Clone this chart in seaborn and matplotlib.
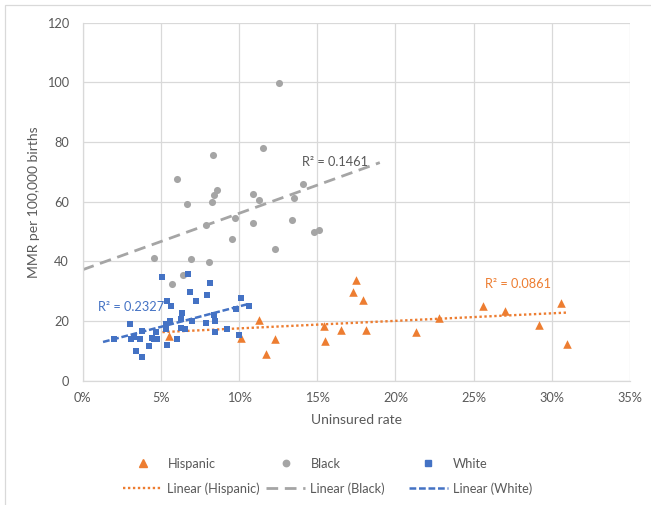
import numpy as np
import matplotlib.pyplot as plt
import seaborn as sns
from matplotlib.lines import Line2D
from matplotlib.patches import Rectangle

# -------------------------------
# 1. Data (uninsured rate in %, MMR per 100,000 births)
# -------------------------------
hisp_x = [5.5, 10.1, 11.3, 11.7, 12.3, 15.4, 15.5, 16.5, 17.3, 17.5,
          17.9, 18.1, 21.3, 22.8, 25.6, 27.0, 29.2, 30.6, 31.0]
hisp_y = [15.1, 14.2, 20.3, 9.1, 13.9, 18.3, 13.3, 16.9, 29.6, 33.9,
          26.9, 17.1, 16.4, 21.1, 25.1, 23.3, 18.7, 26.0, 12.2]

black_x = [4.53, 5.68, 6.04, 6.42, 6.66, 6.9, 7.89, 8.08, 8.3, 8.35,
           8.38, 8.6, 9.53, 9.74, 10.9, 10.9, 11.28, 11.56, 12.3, 12.58,
           13.36, 13.54, 14.09, 14.81, 15.09]
black_y = [41.0, 32.3, 67.6, 35.4, 59.3, 40.8, 52.1, 39.9, 59.8, 75.8,
           62.2, 63.9, 47.5, 54.4, 62.7, 53.0, 60.5, 78.0, 44.0, 99.8,
           53.8, 61.1, 65.9, 49.7, 50.6]

white_x = [2.02, 3.04, 3.09, 3.28, 3.4, 3.66, 3.81, 3.81, 4.21, 4.4,
           4.53, 4.7, 4.74, 5.05, 5.3, 5.32, 5.41, 5.41, 5.6, 5.62,
           6.05, 6.26, 6.3, 6.34, 6.56, 6.73, 6.87, 7.02, 7.26, 7.9,
           7.96, 8.11, 8.41, 8.49, 8.49, 9.26, 9.81, 9.98, 10.11, 10.66]
white_y = [13.9, 18.9, 13.9, 14.8, 10.0, 14.0, 16.8, 8.1, 11.7, 14.4,
           14.0, 16.2, 13.9, 34.6, 19.1, 17.4, 26.7, 12.1, 20.0, 25.1,
           14.1, 20.8, 17.7, 22.6, 17.2, 35.8, 29.8, 19.9, 26.8, 19.4,
           28.7, 32.7, 22.0, 20.0, 16.4, 17.4, 23.9, 15.4, 27.6, 25.1]

# linear trend lines as shown on the chart: intercept, slope, x from, x to
trend_hisp = [15.0, 0.253, 5.1, 31.0]
trend_black = [37.2, 1.89, 0.0, 19.0]
trend_white = [11.2, 1.37, 1.3, 10.66]

r2_labels = {"Hispanic": "R² = 0.0861", "Black": "R² = 0.1461", "White": "R² = 0.2327"}

# -------------------------------
# 2. Style
# -------------------------------
sns.set_style("white")
plt.rcParams['font.family'] = ['Lato', 'DejaVu Sans']
TXT = "#595959"
GRID = "#D9D9D9"
ORANGE, GRAY, BLUE = "#ED7D31", "#A5A5A5", "#4472C4"
FS = 9.2

fig = plt.figure(figsize=(6.51, 5.05), dpi=100)
ax = fig.add_axes([82.7 / 651, 1 - 380.7 / 505, (630 - 82.7) / 651, (380.7 - 22.7) / 505])

# -------------------------------
# 3. Scatter points
# -------------------------------
sns.scatterplot(x=hisp_x, y=hisp_y, marker="^", s=38, color=ORANGE, linewidth=0, ax=ax, zorder=3)
sns.scatterplot(x=black_x, y=black_y, marker="o", s=26, color=GRAY, linewidth=0, ax=ax, zorder=3)
sns.scatterplot(x=white_x, y=white_y, marker="s", s=22, color=BLUE, linewidth=0, ax=ax, zorder=4)

# -------------------------------
# 4. Linear trend lines
# -------------------------------
def trend_line(params):
    b, m, x0, x1 = params
    xx = np.array([x0, x1])
    return xx, b + m * xx

ls_hisp = (0, (1.0, 1.1))
ls_black = (0, (4.2, 2.4))
ls_white = (0, (2.7, 1.1))

xx, yy = trend_line(trend_hisp)
ax.plot(xx, yy, color=ORANGE, lw=1.7, linestyle=ls_hisp, zorder=2)
xx, yy = trend_line(trend_black)
ax.plot(xx, yy, color=GRAY, lw=2.0, linestyle=ls_black, zorder=2)
xx, yy = trend_line(trend_white)
ax.plot(xx, yy, color=BLUE, lw=1.8, linestyle=ls_white, zorder=5)

ax.text(14.05, 73.3, r2_labels["Black"], color=TXT, fontsize=FS, va="center", ha="left")
ax.text(25.7, 32.3, r2_labels["Hispanic"], color=ORANGE, fontsize=FS, va="center", ha="left")
ax.text(1.0, 24.7, r2_labels["White"], color=BLUE, fontsize=FS, va="center", ha="left")

# -------------------------------
# 5. Axes
# -------------------------------
ax.set_xlim(0, 35)
ax.set_ylim(0, 120)
ax.set_xticks(range(0, 36, 5))
ax.set_xticklabels([f"{v}%" for v in range(0, 36, 5)])
ax.set_yticks(range(0, 121, 20))
ax.grid(True, color=GRID, lw=0.9)
ax.set_axisbelow(True)
for side in ["top", "right"]:
    ax.spines[side].set_visible(False)
for side in ["left", "bottom"]:
    ax.spines[side].set_color(GRID)
    ax.spines[side].set_linewidth(0.9)
ax.tick_params(axis="both", length=0, labelsize=FS, labelcolor=TXT)
ax.tick_params(axis="y", pad=10)
ax.tick_params(axis="x", pad=8)
ax.set_xlabel("Uninsured rate", fontsize=10, color=TXT, labelpad=7)
ax.set_ylabel("MMR per 100,000 births", fontsize=10, color=TXT, labelpad=5)

# -------------------------------
# 6. Legend (three columns, placed separately)
# -------------------------------
cols = [
    (Line2D([], [], marker="^", ls="", color=ORANGE, markersize=5.5), "Hispanic",
     Line2D([], [], color=ORANGE, lw=1.7, linestyle=ls_hisp), "Linear (Hispanic)", 122.7),
    (Line2D([], [], marker="o", ls="", color=GRAY, markersize=4.6), "Black",
     Line2D([], [], color=GRAY, lw=2.0, linestyle=ls_black), "Linear (Black)", 265.7),
    (Line2D([], [], marker="s", ls="", color=BLUE, markersize=4.3), "White",
     Line2D([], [], color=BLUE, lw=1.8, linestyle=ls_white), "Linear (White)", 408.5),
]
for h1, l1, h2, l2, xpx in cols:
    fig.legend([h1, h2], [l1, l2], loc="center left",
               bbox_to_anchor=(xpx / 651, 1 - 476.3 / 505),
               frameon=False, fontsize=FS, handlelength=3.1, handletextpad=0.4,
               borderpad=0, borderaxespad=0, labelspacing=0.95, labelcolor=TXT)

# chart area frame (only top and left edges fall inside the picture)
fig.patches.append(Rectangle((5 / 651, -20 / 505), 670 / 651, 520 / 505, transform=fig.transFigure,
                             fill=False, edgecolor=GRID, lw=0.9))

plt.savefig("out.png", dpi=100)
